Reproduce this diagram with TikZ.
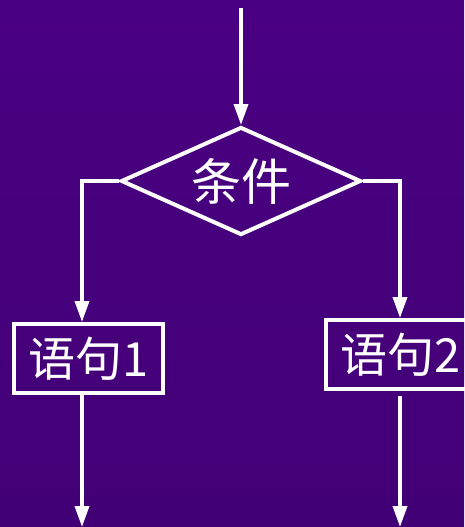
\documentclass[tikz,border=0pt]{standalone}
\usepackage{fontspec}
\setmainfont{Noto Sans CJK SC}
\usetikzlibrary{shapes.geometric,arrows.meta,calc}
\definecolor{bgtop}{RGB}{74,0,130}
\definecolor{bgmid}{RGB}{80,0,142}
\definecolor{bgbot}{RGB}{66,0,118}
\begin{document}
\begin{tikzpicture}[x=1pt,y=-1pt,
  flow/.style={draw=white,line width=3.5pt,-{Triangle[length=21pt,width=14pt]}},
  cond/.style={diamond,draw=white,line width=4pt,minimum width=240pt,minimum height=108pt,inner sep=0pt},
  lbl/.style={text=white,font=\fontsize{50}{50}\selectfont},
  stmt/.style={rectangle,draw=white,line width=4pt,minimum width=149pt,minimum height=69pt,inner sep=0pt,text=white,font=\fontsize{47}{47}\selectfont}]
\useasboundingbox (0,0) rectangle (464,527);
\shade[top color=bgtop,middle color=bgmid,bottom color=bgbot] (0,0) rectangle (464,527);
\node[cond] (d) at (241,181) {};
\node[lbl] (dt) at (d) {条件};
\node[stmt] (b1) at (88.5,358.5) {语句1};
\node[stmt] (b2) at (400.5,354.5) {语句2};
\coordinate (top) at (241,8);
\coordinate (l) at (82,181);
\coordinate (r) at (400,181);
\coordinate (lend) at (82,527);
\coordinate (rend) at (400,527);
\draw[flow] (top) -- (d.north);
\draw[flow] (d.west) -- (l) -- (l |- b1.north);
\draw[flow] (d.east) -- (r) -- (r |- b2.north);
\draw[flow] (lend |- b1.south) -- (lend);
\draw[flow] ($(rend |- b2.south)+(0,5)$) -- (rend);
\end{tikzpicture}
\end{document}
